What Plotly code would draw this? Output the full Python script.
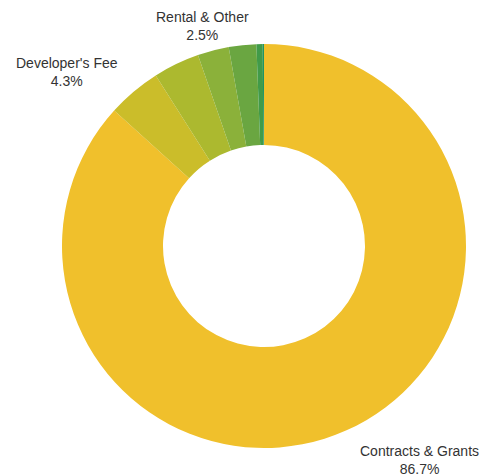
import math
import plotly.graph_objects as go

labels = ["Contracts & Grants", "Developer's Fee", "Investment Income", "Rental & Other",
          "Donations", "Interest", "Miscellaneous"]
values = [86.7, 4.3, 3.7, 2.5, 2.2, 0.5, 0.1]
shown = ["Contracts & Grants", "Developer's Fee", "Rental & Other"]
colors = ["#f0c02c", "#cbbd2a", "#acb92f", "#8bb13a", "#6aa641", "#419b49", "#1e9466"]

fig = go.Figure(go.Pie(
    labels=labels,
    values=values,
    textinfo="none",
    hole=0.5,
    sort=False,
    direction="clockwise",
    rotation=0,
    marker=dict(colors=colors, line=dict(width=0)),
    showlegend=False,
    domain=dict(x=[0, 1], y=[0, 1]),
))

# outside labels placed at each slice's mid angle
total = sum(values)
cum = 0.0
label_r = 0.52
side_gap = 0.022
for lab, val in zip(labels, values):
    mid = (cum + val / 2) / total * 2 * math.pi
    cum += val
    if lab not in shown:
        continue
    s, c = math.sin(mid), math.cos(mid)
    x = 0.5 + label_r * s + math.copysign(side_gap, s)
    y = 0.5 + label_r * c - 0.02 * abs(s)
    if abs(s) < 0.3:
        xa = "center"
    else:
        xa = "left" if s > 0 else "right"
    ya = "bottom" if c > 0 else "top"
    fig.add_annotation(
        x=x, y=y, xref="paper", yref="paper",
        text=f"{lab}<br>{val:.1f}%",
        showarrow=False, xanchor=xa, yanchor=ya, align="center",
        font=dict(family="Liberation Sans, Arial, sans-serif", size=14, color="#333333"),
    )

fig.update_layout(
    width=483, height=476,
    margin=dict(l=62, r=17, t=44, b=28),
    paper_bgcolor="white",
    plot_bgcolor="white",
)

fig.write_html(
    "out.html",
    config={"displayModeBar": False},
    post_script="document.body.style.margin='0';document.body.style.overflow='hidden';",
)
